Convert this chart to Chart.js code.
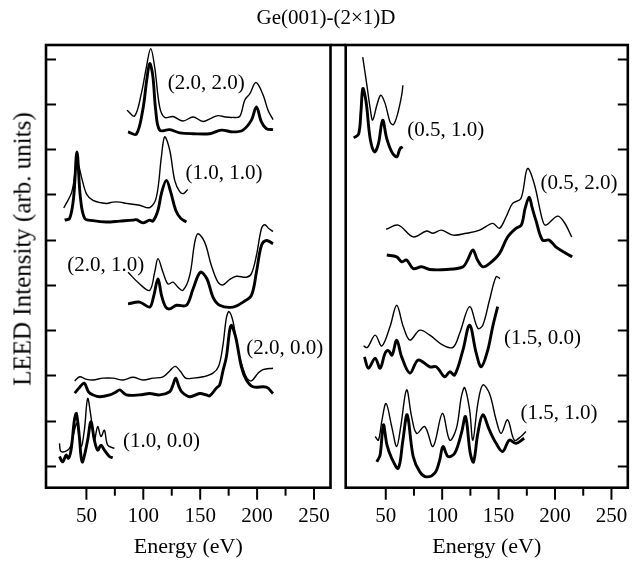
<!DOCTYPE html>
<html><head><meta charset="utf-8">
<script src="https://cdn.jsdelivr.net/npm/chart.js@4.4.1/dist/chart.umd.min.js"></script>
<style>
html,body{margin:0;padding:0;background:#fff;}
#wrap{position:relative;width:644px;height:564px;overflow:hidden;background:#fff;}
canvas{position:absolute;left:0;top:0;}
.txt{position:absolute;font-family:"Liberation Serif","Times New Roman",serif;color:#000;white-space:nowrap;line-height:1;}
#title{left:0;width:652px;top:7px;text-align:center;font-size:21px;}
#ylab{left:22px;top:249px;transform:translate(-50%,-50%) rotate(-90deg);font-size:25px;}
</style></head><body>
<div id="wrap">
<canvas id="c1" width="644" height="564"></canvas>
<canvas id="c2" width="644" height="564"></canvas>
<div class="txt" id="title">Ge(001)-(2×1)D</div>
<div class="txt" id="ylab">LEED Intensity (arb. units)</div>
</div>
<script>
// ---- axis ticks ----
const xTickValues = [50, 75, 100, 125, 150, 175, 200, 225, 250];
const xLabelValues = [50, 100, 150, 200, 250];
const yTickValues = [0, 1, 2, 3, 4, 5, 6, 7, 8, 9];

// ---- left panel curves (Energy eV, intensity arb. units) ----
const e22thin = [85.7, 92.4, 98.3, 102.7, 106.5, 110.0, 114.4, 118.8, 126.1, 134.9, 143.7, 152.5, 159.5, 165.6, 172.0, 178.0, 184.7, 189.1, 193.5, 199.0, 205.2, 209.6, 214.0];
const i22thin = [7.86, 7.73, 8.23, 8.81, 9.22, 8.81, 7.93, 7.70, 7.72, 7.62, 7.71, 7.61, 7.68, 7.74, 7.71, 7.70, 7.72, 8.08, 8.22, 8.47, 8.20, 7.86, 7.65];
const e22thick = [86.6, 93.9, 99.5, 103.0, 105.6, 108.3, 110.9, 114.4, 123.2, 132.0, 143.7, 158.4, 168.6, 178.8, 187.6, 195.0, 199.4, 203.8, 208.2, 214.0];
const i22thick = [7.38, 7.33, 7.86, 8.52, 8.89, 8.63, 7.86, 7.42, 7.43, 7.36, 7.34, 7.34, 7.42, 7.38, 7.42, 7.64, 7.93, 7.60, 7.45, 7.43];

const e11thin = [30.1, 37.1, 40.6, 42.4, 45.9, 50.3, 55.8, 67.6, 73.1, 79.3, 85.1, 96.8, 105.6, 111.5, 115.9, 118.8, 123.2, 127.6, 132.0, 135.5, 139.0];
const i11thin = [5.70, 6.05, 6.58, 6.69, 6.36, 6.00, 5.87, 5.80, 5.83, 5.83, 5.80, 5.76, 5.71, 5.94, 6.83, 7.27, 6.98, 6.31, 6.06, 6.02, 6.11];
const e11thick = [30.9, 35.3, 38.8, 41.7, 44.7, 48.5, 55.8, 67.6, 79.3, 91.0, 93.9, 99.7, 105.6, 108.5, 112.9, 116.2, 120.3, 124.1, 128.5, 132.9, 137.9];
const i11thick = [5.43, 5.47, 5.94, 6.94, 5.94, 5.47, 5.42, 5.39, 5.41, 5.43, 5.44, 5.37, 5.43, 5.41, 5.65, 6.05, 6.31, 6.05, 5.65, 5.47, 5.39];

const e21thin = [86.6, 96.8, 105.6, 110.0, 112.9, 117.3, 121.7, 126.1, 130.5, 134.9, 140.8, 145.2, 148.1, 154.0, 159.8, 165.6, 170.0, 175.9, 181.8, 190.6, 195.0, 199.4, 203.8, 206.7, 210.5, 214.0];
const i21thin = [4.28, 4.02, 3.88, 4.28, 4.58, 4.28, 4.02, 4.06, 3.95, 3.88, 4.21, 4.94, 5.13, 4.94, 4.43, 4.06, 4.00, 4.12, 4.19, 4.17, 4.25, 4.65, 5.24, 5.33, 5.24, 5.18];
const e21thick = [86.6, 96.8, 105.6, 109.1, 112.9, 116.2, 119.7, 123.2, 129.1, 137.9, 143.7, 150.2, 156.0, 161.2, 167.1, 178.8, 187.6, 195.0, 199.4, 203.8, 208.2, 214.0];
const i21thick = [3.58, 3.62, 3.51, 3.75, 4.13, 3.75, 3.51, 3.47, 3.55, 3.55, 3.91, 4.28, 4.13, 3.73, 3.55, 3.51, 3.62, 3.77, 4.28, 4.87, 4.98, 4.91];

const e20thin = [39.7, 44.1, 49.4, 55.8, 64.6, 73.4, 82.2, 90.9, 99.7, 108.5, 117.3, 123.2, 128.0, 132.9, 137.3, 143.7, 152.5, 161.2, 166.3, 170.0, 173.0, 175.3, 178.8, 181.6, 184.7, 190.6, 195.0, 200.8, 205.2, 214.0];
const i20thin = [1.88, 1.97, 1.92, 1.90, 1.94, 1.94, 1.90, 1.96, 1.90, 1.94, 1.97, 2.10, 2.20, 2.08, 1.94, 1.94, 1.97, 2.05, 2.21, 2.67, 3.27, 3.41, 3.20, 2.78, 2.41, 1.96, 1.88, 2.05, 2.13, 2.16];
const e20thick = [39.7, 44.1, 48.1, 52.0, 55.8, 61.7, 70.5, 75.7, 79.3, 85.1, 96.8, 105.6, 114.4, 123.2, 125.8, 128.5, 131.1, 133.7, 140.8, 149.6, 155.5, 158.4, 164.2, 167.1, 169.8, 173.0, 175.9, 177.4, 179.4, 181.8, 186.2, 190.6, 196.4, 208.2, 214.0];
const i20thick = [1.61, 1.74, 1.83, 1.63, 1.57, 1.53, 1.57, 1.63, 1.68, 1.57, 1.57, 1.60, 1.57, 1.64, 1.77, 1.94, 1.77, 1.64, 1.53, 1.60, 1.57, 1.55, 1.72, 1.79, 2.08, 2.41, 3.00, 3.11, 3.00, 2.78, 2.19, 1.90, 1.75, 1.74, 1.60];

const e10thin = [26.3, 27.7, 33.6, 36.5, 39.5, 41.7, 45.3, 48.2, 51.1, 54.0, 57.0, 59.9, 62.8, 65.8, 68.7, 74.6];
const i10thin = [0.50, 0.32, 0.35, 0.46, 0.79, 0.94, 0.43, 0.79, 1.49, 1.09, 0.57, 0.87, 0.65, 0.79, 0.46, 0.39];
const e10thick = [26.3, 29.2, 32.1, 34.2, 36.5, 39.5, 41.2, 43.8, 45.3, 46.7, 51.1, 54.0, 57.0, 59.9, 62.8, 65.8, 70.2, 73.1];
const i10thick = [0.21, 0.09, 0.24, 0.17, 0.35, 1.02, 1.16, 0.65, 0.21, 0.09, 0.57, 0.98, 0.57, 0.35, 0.46, 0.35, 0.21, 0.18];

// ---- right panel curves ----
const e0510thin = [29.6, 33.3, 36.2, 38.4, 42.1, 45.6, 49.4, 53.8, 56.7, 60.2, 64.1, 65.2];
const i0510thin = [9.03, 8.41, 7.90, 7.64, 7.97, 8.19, 8.01, 7.60, 7.54, 7.75, 8.19, 8.41];
const e0510thick = [21.6, 25.9, 28.0, 29.7, 32.6, 36.2, 40.1, 43.5, 47.2, 50.9, 55.3, 59.7, 62.6, 65.0];
const i0510thick = [7.25, 7.33, 7.82, 8.34, 8.04, 7.23, 6.94, 7.12, 7.64, 7.23, 6.94, 6.83, 7.01, 7.05];

const e0520thin = [50.3, 61.1, 74.3, 86.1, 91.9, 99.3, 109.6, 121.4, 133.1, 144.8, 150.7, 156.6, 162.4, 169.8, 175.6, 181.5, 188.9, 191.9, 202.1, 208.0, 214.8];
const i0520thin = [5.23, 5.32, 5.06, 5.19, 5.14, 5.21, 5.10, 5.14, 5.21, 5.36, 5.25, 5.50, 5.80, 5.91, 6.57, 6.24, 5.43, 5.32, 5.52, 5.39, 5.06];
const e0520thick = [50.9, 59.7, 64.1, 68.5, 74.3, 81.7, 89.0, 103.7, 118.4, 122.5, 127.2, 131.3, 136.0, 141.9, 150.7, 158.0, 165.4, 170.1, 173.6, 177.1, 179.8, 183.0, 188.9, 194.8, 200.7, 209.5, 215.3];
const i0520thick = [4.66, 4.62, 4.51, 4.55, 4.36, 4.40, 4.34, 4.34, 4.40, 4.55, 4.77, 4.55, 4.40, 4.47, 4.69, 5.06, 5.25, 5.32, 5.70, 5.94, 5.70, 5.43, 4.99, 4.99, 4.84, 4.70, 4.62];

const e1500thin = [30.3, 33.8, 40.6, 46.5, 53.8, 59.7, 65.5, 71.4, 80.2, 89.0, 100.7, 109.6, 115.5, 124.3, 131.6, 136.0, 141.9, 147.8, 151.3];
const i1500thin = [2.65, 2.62, 2.89, 2.65, 3.08, 3.55, 3.08, 2.78, 3.00, 2.89, 2.67, 2.62, 2.93, 3.52, 3.04, 3.11, 3.66, 4.18, 4.14];
const e1500thick = [31.1, 34.7, 40.6, 45.0, 49.4, 52.3, 55.6, 59.7, 64.1, 71.4, 78.7, 89.0, 94.9, 102.2, 106.7, 111.1, 118.4, 124.3, 130.2, 134.6, 140.4, 144.8, 149.2];
const i1500thick = [2.41, 2.16, 2.38, 2.16, 2.49, 2.55, 2.45, 2.78, 2.41, 2.05, 2.34, 2.19, 2.19, 1.97, 2.08, 2.01, 2.56, 3.11, 2.49, 2.19, 2.56, 3.08, 3.52];

const e1510thin = [40.6, 43.5, 46.7, 50.3, 55.3, 59.7, 63.5, 68.5, 72.9, 77.3, 84.6, 91.9, 100.2, 106.7, 112.6, 117.0, 119.9, 124.3, 127.2, 131.6, 136.0, 141.9, 147.8, 152.2, 158.0, 163.9, 169.8, 174.2];
const i1510thin = [0.65, 0.57, 1.02, 1.38, 0.87, 0.43, 0.91, 1.68, 1.09, 0.72, 0.87, 0.43, 1.16, 0.57, 0.83, 1.53, 1.73, 1.24, 0.57, 1.38, 1.79, 1.60, 1.02, 0.72, 1.02, 0.57, 0.65, 0.76];
const e1510thick = [42.1, 45.0, 47.9, 51.1, 55.3, 61.1, 65.2, 69.0, 74.3, 80.2, 86.1, 93.4, 97.8, 100.7, 105.2, 111.1, 117.0, 120.7, 124.9, 127.8, 131.6, 136.0, 141.9, 147.8, 153.6, 159.5, 165.4, 172.7];
const i1510thick = [0.09, 0.24, 0.91, 0.46, 0.17, -0.05, 0.57, 1.13, 0.21, -0.13, -0.24, -0.16, 0.13, 0.43, 0.21, 0.28, 0.72, 1.09, 0.28, 0.09, 0.72, 1.13, 0.79, 0.50, 0.32, 0.57, 0.50, 0.61];

// ---- beam labels (text, anchor energy, anchor intensity) ----
const leftBeamText = ['(2.0, 2.0)', '(1.0, 1.0)', '(2.0, 1.0)', '(2.0, 0.0)', '(1.0, 0.0)'];
const leftBeamE = [155.4, 170.9, 67.0, 224.3, 115.9];
const leftBeamI = [8.45, 6.46, 4.44, 2.60, 0.54];
const rightBeamText = ['(0.5, 1.0)', '(0.5, 2.0)', '(1.5, 0.0)', '(1.5, 1.0)'];
const rightBeamE = [103.1, 221.2, 188.9, 203.6];
const rightBeamI = [7.42, 6.24, 2.82, 1.16];

const X_MIN = 14.5, X_MAX = 264.5, Y_MIN = -0.48, Y_MAX = 9.3;
const SERIF = '"Liberation Serif", "Times New Roman", serif';

function pts(xs, ys) { return xs.map((x, i) => ({ x: x, y: ys[i] })); }
function thin(xs, ys) { return { data: pts(xs, ys), borderColor: '#000', borderWidth: 1.4, pointRadius: 0, tension: 0.35, fill: false }; }
function thick(xs, ys) { return { data: pts(xs, ys), borderColor: '#000', borderWidth: 2.9, pointRadius: 0, tension: 0.35, fill: false }; }

const framePlugin = {
  id: 'frame',
  afterDraw(chart, args, opts) {
    const { ctx, chartArea: a, scales: { x, y } } = chart;
    ctx.save();
    ctx.strokeStyle = '#000';
    ctx.lineWidth = 2.6;
    ctx.strokeRect(a.left, a.top, a.right - a.left, a.bottom - a.top);
    if (opts.topExtend) {
      ctx.beginPath(); ctx.moveTo(a.right, a.top); ctx.lineTo(a.right + opts.topExtend, a.top); ctx.stroke();
    }
    ctx.lineWidth = 2;
    yTickValues.forEach(v => {
      const py = Math.round(y.getPixelForValue(v)) + 0.5;
      ctx.beginPath();
      if (opts.side === 'left') { ctx.moveTo(a.left, py); ctx.lineTo(a.left + 10, py); }
      else { ctx.moveTo(a.right, py); ctx.lineTo(a.right - 10, py); }
      ctx.stroke();
    });
    xTickValues.forEach(v => {
      const px = x.getPixelForValue(v);
      const len = (v % 50 === 0) ? 12 : 8;
      ctx.beginPath(); ctx.moveTo(px, a.bottom); ctx.lineTo(px, a.bottom + len); ctx.stroke();
    });
    ctx.fillStyle = '#000';
    ctx.font = '21px ' + SERIF;
    ctx.textAlign = 'center';
    ctx.textBaseline = 'middle';
    opts.text.forEach((t, i) => ctx.fillText(t, x.getPixelForValue(opts.e[i]), y.getPixelForValue(opts.v[i])));
    ctx.restore();
  }
};

function makeChart(id, padL, padR, datasets, side, text, e, v, topExtend) {
  return new Chart(document.getElementById(id), {
    type: 'line',
    data: { datasets: datasets },
    options: {
      responsive: false, animation: false, events: [],
      layout: { padding: { left: padL, right: padR, top: 45, bottom: 0 } },
      plugins: { legend: { display: false }, tooltip: { enabled: false }, title: { display: false },
                 frame: { side: side, text: text, e: e, v: v, topExtend: topExtend } },
      scales: {
        x: {
          type: 'linear', min: X_MIN, max: X_MAX,
          afterBuildTicks: s => { s.ticks = xLabelValues.map(val => ({ value: val })); },
          afterFit: s => { s.height = 564 - 487.7; },
          grid: { display: false, drawTicks: false }, border: { display: false },
          ticks: { padding: 16, color: '#000', maxRotation: 0, autoSkip: false, font: { family: SERIF, size: 21 } },
          title: { display: true, text: 'Energy (eV)', color: '#000', font: { family: SERIF, size: 22 }, padding: { top: 0, bottom: 4 } }
        },
        y: { type: 'linear', display: false, min: Y_MIN, max: Y_MAX }
      }
    },
    plugins: [framePlugin]
  });
}

makeChart('c1', 46, 644 - 330.5, [
  thin(e22thin, i22thin), thick(e22thick, i22thick),
  thin(e11thin, i11thin), thick(e11thick, i11thick),
  thin(e21thin, i21thin), thick(e21thick, i21thick),
  thin(e20thin, i20thin), thick(e20thick, i20thick),
  thin(e10thin, i10thin), thick(e10thick, i10thick)
], 'left', leftBeamText, leftBeamE, leftBeamI, 15.2);

makeChart('c2', 345.7, 14, [
  thin(e0510thin, i0510thin), thick(e0510thick, i0510thick),
  thin(e0520thin, i0520thin), thick(e0520thick, i0520thick),
  thin(e1500thin, i1500thin), thick(e1500thick, i1500thick),
  thin(e1510thin, i1510thin), thick(e1510thick, i1510thick)
], 'right', rightBeamText, rightBeamE, rightBeamI, 0);
</script>
</body></html>
